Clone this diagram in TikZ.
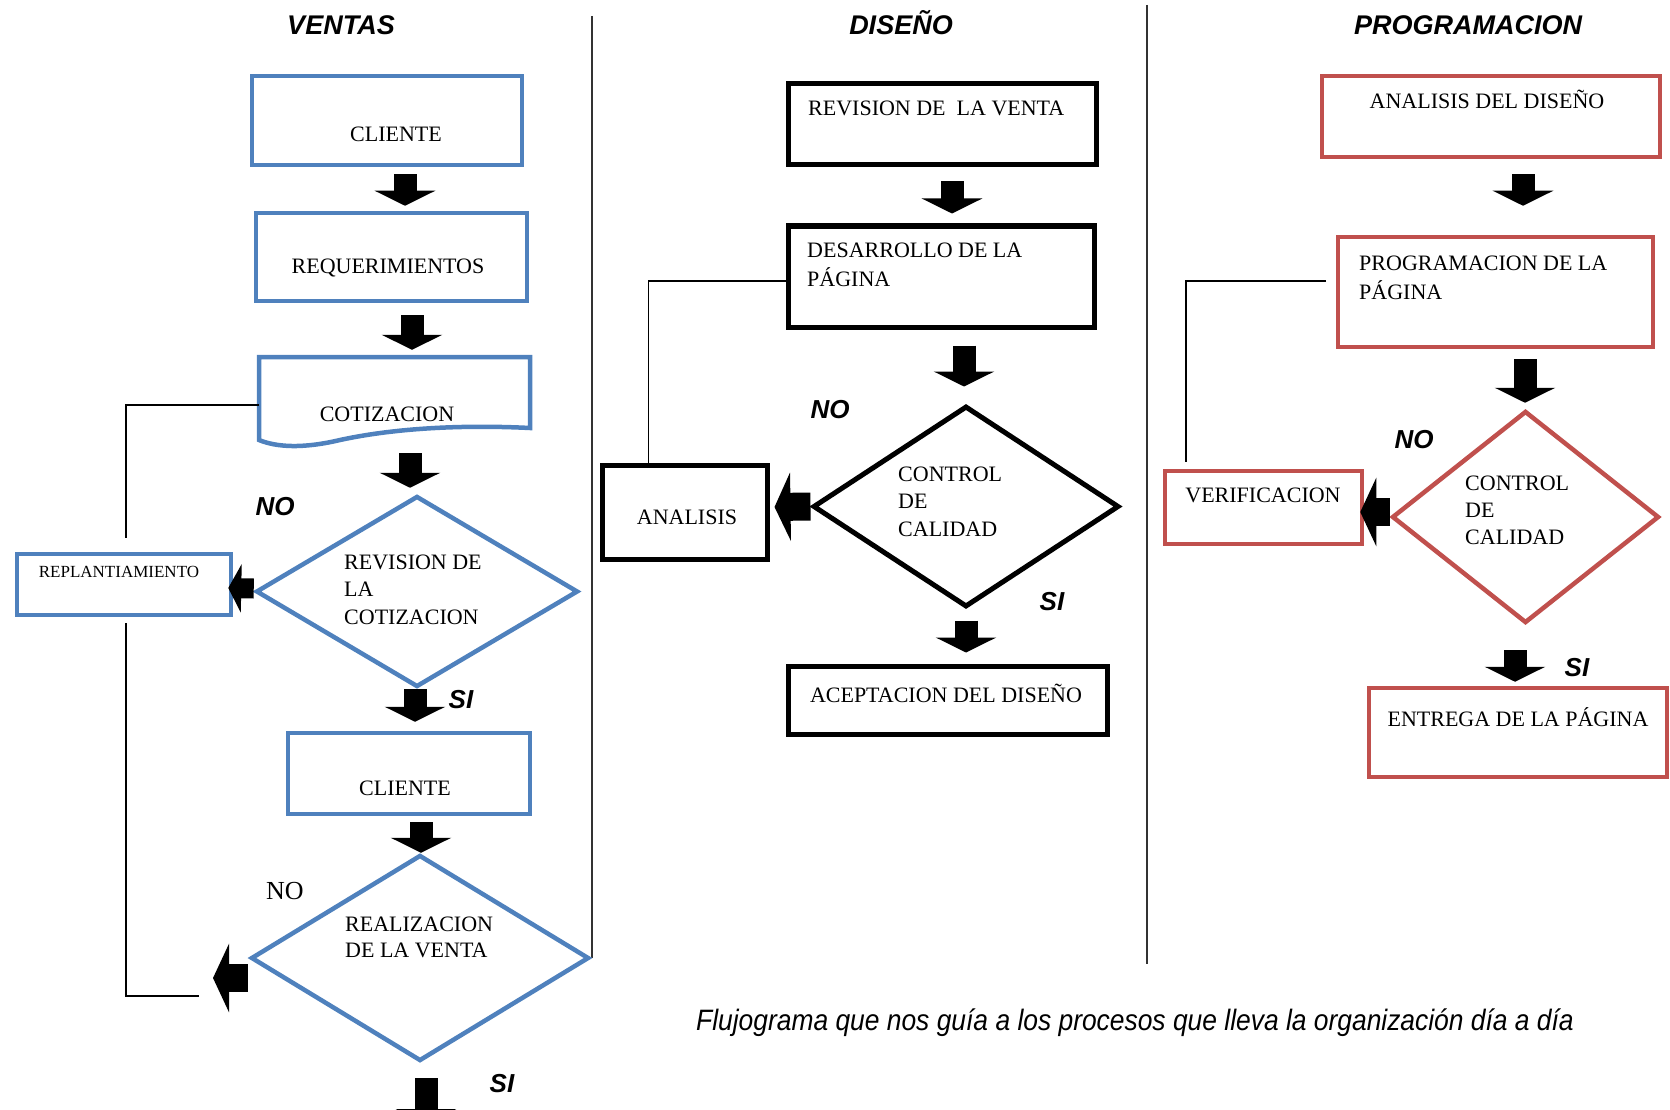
\documentclass[tikz,border=0pt]{standalone}
\usepackage{fontspec}
\usepackage{graphicx}
\setmainfont{Liberation Serif}
\newfontfamily\arialfont{Liberation Sans}
\usetikzlibrary{shapes.geometric,arrows.meta,calc}
\definecolor{boxblue}{HTML}{4F81BD}
\definecolor{boxred}{HTML}{C0504D}
\begin{document}
\begin{tikzpicture}[x=1pt,y=-1pt,
  bluebox/.style={draw=boxblue, line width=4.5pt, rectangle, inner sep=0pt},
  redbox/.style={draw=boxred, line width=4.5pt, rectangle, inner sep=0pt},
  blackbox/.style={draw=black, line width=5pt, rectangle, inner sep=0pt},
  bluediam/.style={draw=boxblue, line width=4.5pt, diamond, inner sep=0pt},
  reddiam/.style={draw=boxred, line width=4.5pt, diamond, inner sep=0pt},
  blackdiam/.style={draw=black, line width=5pt, diamond, inner sep=0pt},
  txt/.style={font=\fontsize{22}{27.5}\selectfont, inner sep=0pt},
  mtxt/.style={txt, align=left, anchor=west},
  lbl/.style={font=\arialfont\bfseries\itshape\fontsize{26}{30}\selectfont, inner sep=0pt},
  ttl/.style={font=\arialfont\bfseries\itshape\fontsize{27}{32}\selectfont, inner sep=0pt, anchor=base},
  conn/.style={line width=1.6pt, black},
  sepline/.style={line width=1.6pt, black!80},
  darrow/.style={line width=23pt, -{Triangle[width=60pt,length=15pt]}},
  larrow/.style={line width=28pt, -{Triangle[width=68pt,length=16pt]}},
  sarrow/.style={line width=20pt, -{Triangle[width=48pt,length=13pt]}},
]
\useasboundingbox (0,0) rectangle (1670,1110);
\clip (0,0) rectangle (1670,1110);

% titles
\node[ttl] (tv) at (341,35) {VENTAS};
\node[ttl] (td) at (901,35) {DISEÑO};
\node[ttl] (tp) at (1468,35) {PROGRAMACION};

% separators
\coordinate (s1a) at (592,16);  \coordinate (s1b) at (592,958);
\coordinate (s2a) at (1147,5);  \coordinate (s2b) at (1147,964);
\draw[sepline] (s1a) -- (s1b);
\draw[sepline] (s2a) -- (s2b);

% ---------------- VENTAS ----------------
\node[bluebox, minimum width=270pt, minimum height=89pt] (cli1) at (387,120.5) {};
\node[txt] (tcli1) at (396,134) {CLIENTE};
\node[bluebox, minimum width=271pt, minimum height=88pt] (req) at (391.5,257) {};
\node[txt] (treq) at (388,268) {REQUERIMIENTOS};
\node[minimum width=271pt, minimum height=80pt, inner sep=0pt] (cot) at (394.5,397) {};
\draw[draw=boxblue, line width=4.5pt, line join=miter]
  (259,357) -- (530,357) -- (530,428)
  .. controls (470,425) and (400,427) .. (340,440)
  .. controls (302,449) and (276,447) .. (259,440) -- cycle;
\node[txt] (tcot) at (387,414) {COTIZACION};

\node[bluediam, minimum width=322pt, minimum height=191pt] (revc) at (417,591.5) {};
\node[mtxt] (trevc) at (344,589.5) {REVISION DE\\LA\\COTIZACION};

\node[bluebox, minimum width=214pt, minimum height=61pt] (rep) at (124,584.5) {};
\node[txt, font=\fontsize{17}{20}\selectfont] (trep) at (119,572) {REPLANTIAMIENTO};

\node[bluebox, minimum width=242pt, minimum height=81pt] (cli2) at (409,773.5) {};
\node[txt] (tcli2) at (405,788) {CLIENTE};

\node[bluediam, minimum width=338pt, minimum height=206pt] (rea) at (420,958) {};
\node[mtxt, font=\fontsize{22}{26}\selectfont] (trea) at (345,937) {REALIZACION\\DE LA VENTA};

\node[lbl] (no1) at (275,507) {NO};
\node[lbl] (si1) at (461,700) {SI};
\node[txt, font=\fontsize{26}{30}\selectfont] (no2) at (285,891) {NO};
\node[lbl] (si2) at (502,1084) {SI};

\draw[darrow] ($(cli1.south)+(18,7)$) -- ($(req.north)+(13.5,-5)$);
\draw[darrow] ($(req.south)+(20.5,12)$) -- ($(cot.north)+(17.5,-7)$);
\draw[darrow] ($(cot.south)+(15.5,16)$) -- ($(revc.north)+(-7,-6)$);
\draw[darrow] ($(revc.south)+(-2,0)$) -- ($(cli2.north)+(6,-9)$);
\draw[darrow] ($(cli2.south)+(12,6)$) -- ($(rea.north)+(1,0)$);
\coordinate (a7e) at (426,1124);
\draw[darrow] ($(rea.south)+(6,15)$) -- (a7e);
\draw[sarrow] ($(revc.west)+(0,-3)$) -- ($(rep.east)+(-5,3.5)$);
\coordinate (a6e) at (213,978);
\draw[larrow] ($(rea.west)+(-1,20)$) -- (a6e);

\coordinate (l1e) at (126,538);
\draw[conn] ($(cot.west)+(0,8)$) -| (l1e);
\coordinate (l2s) at (126,623);
\coordinate (l2e) at (199,996);
\draw[conn] (l2s) |- (l2e);

% ---------------- DISEÑO ----------------
\node[blackbox, minimum width=308pt, minimum height=81pt] (rvv) at (942,124.5) {};
\node[txt, anchor=west] (trvv) at (808,108) {REVISION DE \ LA VENTA};
\node[blackbox, minimum width=306pt, minimum height=101pt] (des) at (941,276.5) {};
\node[mtxt, font=\fontsize{22}{29}\selectfont] (tdes) at (807,264.5) {DESARROLLO DE LA\\PÁGINA};
\node[blackdiam, minimum width=306pt, minimum height=201pt] (ctl1) at (966,506.5) {};
\node[mtxt] (tctl1) at (898,501.5) {CONTROL\\DE\\CALIDAD};
\node[blackbox, minimum width=165pt, minimum height=94pt] (ana) at (684.5,512) {};
\node[txt] (tana) at (687,517) {ANALISIS};
\node[blackbox, minimum width=319pt, minimum height=68pt] (acc) at (947.5,700) {};
\node[txt] (tacc) at (946,693) {ACEPTACION DEL DISEÑO};
\node[lbl] (no3) at (830,410) {NO};
\node[lbl] (si3) at (1052,602) {SI};

\draw[darrow] ($(rvv.south)+(10,14)$) -- ($(des.north)+(11,-10)$);
\draw[darrow] ($(des.south)+(23,16)$) -- ($(ctl1.north)+(-2,-17)$);
\draw[darrow] ($(ctl1.south)+(0,11)$) -- ($(acc.north)+(18.5,-11)$);
\draw[larrow] (ctl1.west) -- ($(ana.east)+(5,-5)$);
\draw[conn] ($(des.west)+(0,4.5)$) -| ($(ana.north west)+(49,0)$);

% ---------------- PROGRAMACION ----------------
\node[redbox, minimum width=338pt, minimum height=81pt] (and) at (1491,116.5) {};
\node[txt] (tand) at (1487,99) {ANALISIS DEL DISEÑO};
\node[redbox, minimum width=315pt, minimum height=110pt] (prg) at (1495.5,292) {};
\node[mtxt, font=\fontsize{22}{29}\selectfont] (tprg) at (1359,277.5) {PROGRAMACION DE LA\\PÁGINA};
\node[reddiam, minimum width=267pt, minimum height=212pt] (ctl2) at (1525.5,517) {};
\node[mtxt, font=\fontsize{22}{27}\selectfont] (tctl2) at (1465,510) {CONTROL\\DE\\CALIDAD};
\node[redbox, minimum width=197pt, minimum height=73pt] (ver) at (1263.5,507.5) {};
\node[txt] (tver) at (1263,495) {VERIFICACION};
\node[redbox, minimum width=298pt, minimum height=89pt] (ent) at (1518,732.5) {};
\node[txt] (tent) at (1518,717) {ENTREGA DE LA PÁGINA};
\node[lbl] (no4) at (1414,440) {NO};
\node[lbl] (si4) at (1577,668) {SI};

\draw[darrow] ($(and.south)+(32,15)$) -- ($(prg.north)+(27.5,-29)$);
\draw[darrow] ($(prg.south)+(29.5,10)$) -- ($(ctl2.north)+(-0.5,-6)$);
\draw[darrow] ($(ctl2.south)+(-10.5,25)$) -- ($(ent.north)+(-3,-4)$);
\draw[larrow] ($(ctl2.west)+(0,-5)$) -- ($(ver.east)+(-4,4.5)$);
\coordinate (l4s) at (1326,281);
\coordinate (l4e) at (1186,462);
\draw[conn] (l4s) -| (l4e);

% caption
\node[inner sep=0pt, anchor=base, font=\arialfont\itshape\fontsize{29.5}{35}\selectfont] (cap) at (1135,1030)
  {\scalebox{0.895}[1]{Flujograma que nos guía a los procesos que lleva la organización día a día}};
\end{tikzpicture}
\end{document}
